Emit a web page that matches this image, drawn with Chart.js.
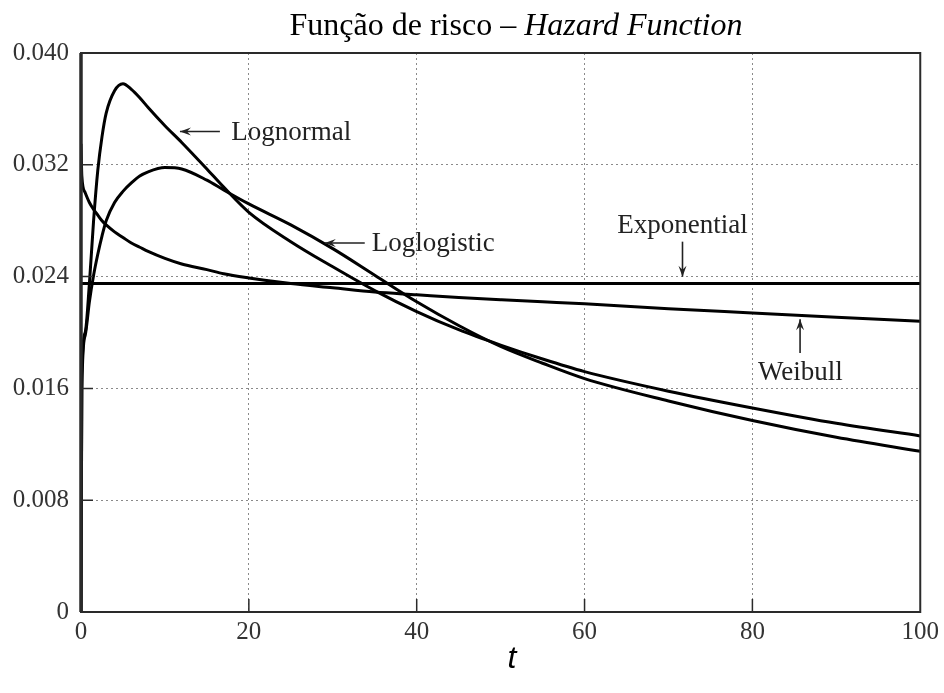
<!DOCTYPE html>
<html>
<head>
<meta charset="utf-8">
<script src="https://cdn.jsdelivr.net/npm/chart.js@4.4.1/dist/chart.umd.min.js"></script>
<style>
  html, body { margin: 0; padding: 0; background: #fff; }
  #chart { display: block; }
</style>
</head>
<body>
<canvas id="chart" width="944" height="693"></canvas>
<script>
// time points (shared by the curves) and hazard values
var tValues = [0, 0.1, 0.5, 1, 1.5, 2, 2.5, 3, 4, 5, 6, 7, 8, 10, 12, 15, 17, 20, 25, 30, 35, 40, 45, 50, 55, 60, 70, 80, 90, 100];

var lognormal = [0, 0.0170, 0.0200, 0.0235, 0.0280, 0.0316, 0.0340, 0.0357, 0.0373, 0.0378, 0.0374, 0.0368, 0.0361, 0.0348, 0.0336, 0.0317, 0.0304, 0.0286, 0.0265, 0.0247, 0.0230, 0.0215, 0.0202, 0.0191, 0.0181, 0.0172, 0.0158, 0.0146, 0.0135, 0.0126];

var loglogistic = [0, 0.0160, 0.0198, 0.0222, 0.0241, 0.0256, 0.0269, 0.0280, 0.0293, 0.0301, 0.0307, 0.0312, 0.0315, 0.0318, 0.0317, 0.0309, 0.0302, 0.0292, 0.0277, 0.0260, 0.0241, 0.0222, 0.0205, 0.0190, 0.0178, 0.0167, 0.0151, 0.0137, 0.0125, 0.0115];

var weibull = [0.0335, 0.0312, 0.0300, 0.0293, 0.0288, 0.0284, 0.0280, 0.0277, 0.0272, 0.0268, 0.0264, 0.0261, 0.0258, 0.0253, 0.0249, 0.0245, 0.0242, 0.0239, 0.0235, 0.0232, 0.0229, 0.0227, 0.0225, 0.02235, 0.0222, 0.02205, 0.0217, 0.0214, 0.0211, 0.0208];

var exponentialT = [0, 100];
var exponential = [0.0235, 0.0235];

var xTicks = [0, 20, 40, 60, 80, 100];
var yTicks = [0, 0.008, 0.016, 0.024, 0.032, 0.040];

// curve labels with their arrows, in data units
var labels = [
  { text: 'Lognormal',   x: 17.9,  y: 0.03377, align: 'left',   arrow: [16.55, 0.03438, 11.79, 0.03438] },
  { text: 'Loglogistic', x: 34.64, y: 0.02583, align: 'left',   arrow: [33.81, 0.02640, 29.05, 0.02640] },
  { text: 'Exponential', x: 71.67, y: 0.02714, align: 'center', arrow: [71.67, 0.02650, 71.67, 0.02399] },
  { text: 'Weibull',     x: 85.71, y: 0.01660, align: 'center', arrow: [85.68, 0.01853, 85.68, 0.02094] }
];

function pts(xs, ys) {
  return xs.map(function (x, i) { return { x: x, y: ys[i] }; });
}

function curve(name, xs, ys) {
  return {
    label: name,
    data: pts(xs, ys),
    borderColor: '#000',
    borderWidth: 3,
    pointRadius: 0,
    fill: false,
    cubicInterpolationMode: 'monotone'
  };
}

var serif = '"Liberation Serif", "Times New Roman", serif';

function arrow(ctx, x1, y1, x2, y2) {
  var a = Math.atan2(y2 - y1, x2 - x1);
  ctx.beginPath();
  ctx.moveTo(x1, y1);
  ctx.lineTo(x2, y2);
  ctx.stroke();
  ctx.beginPath();
  ctx.moveTo(x2, y2);
  ctx.lineTo(x2 - 11 * Math.cos(a) + 4 * Math.sin(a), y2 - 11 * Math.sin(a) - 4 * Math.cos(a));
  ctx.lineTo(x2 - 7 * Math.cos(a), y2 - 7 * Math.sin(a));
  ctx.lineTo(x2 - 11 * Math.cos(a) - 4 * Math.sin(a), y2 - 11 * Math.sin(a) + 4 * Math.cos(a));
  ctx.closePath();
  ctx.fill();
}

var decor = {
  id: 'decor',
  afterDraw: function (chart) {
    var ctx = chart.ctx, a = chart.chartArea;
    var xs = chart.scales.x, ys = chart.scales.y;
    ctx.save();

    // frame
    ctx.strokeStyle = '#2a2a2a';
    ctx.lineWidth = 2;
    ctx.strokeRect(a.left, a.top, a.right - a.left, a.bottom - a.top);
    ctx.lineWidth = 3.5;
    ctx.beginPath();
    ctx.moveTo(a.left, a.top);
    ctx.lineTo(a.left, a.bottom);
    ctx.stroke();

    // short inner tick marks
    ctx.lineWidth = 1.5;
    ctx.beginPath();
    xTicks.slice(1, -1).forEach(function (v) {
      var px = xs.getPixelForValue(v);
      ctx.moveTo(px, a.bottom);
      ctx.lineTo(px, a.bottom - 13);
    });
    yTicks.slice(1, -1).forEach(function (v) {
      var py = ys.getPixelForValue(v);
      ctx.moveTo(a.left, py);
      ctx.lineTo(a.left + 12, py);
    });
    ctx.stroke();

    // title with italic part
    var part1 = 'Função de risco – ', part2 = 'Hazard Function';
    ctx.fillStyle = '#000';
    ctx.textBaseline = 'alphabetic';
    ctx.font = '32px ' + serif;
    var w1 = ctx.measureText(part1).width;
    ctx.font = 'italic 32px ' + serif;
    var w2 = ctx.measureText(part2).width;
    var x0 = 516 - (w1 + w2) / 2;
    ctx.font = '32px ' + serif;
    ctx.textAlign = 'left';
    ctx.fillText(part1, x0, 35);
    ctx.font = 'italic 32px ' + serif;
    ctx.fillText(part2, x0 + w1, 35);

    // x axis name
    ctx.font = 'italic 32px "Liberation Sans", Arial, sans-serif';
    ctx.textAlign = 'center';
    ctx.fillText('t', 512, 668);

    // curve labels
    ctx.font = '27px ' + serif;
    ctx.fillStyle = '#222';
    ctx.strokeStyle = '#222';
    ctx.lineWidth = 1.6;
    labels.forEach(function (l) {
      ctx.textAlign = l.align;
      ctx.fillText(l.text, xs.getPixelForValue(l.x), ys.getPixelForValue(l.y));
      arrow(ctx,
        xs.getPixelForValue(l.arrow[0]), ys.getPixelForValue(l.arrow[1]),
        xs.getPixelForValue(l.arrow[2]), ys.getPixelForValue(l.arrow[3]));
    });

    ctx.restore();
  }
};

new Chart(document.getElementById('chart').getContext('2d'), {
  type: 'line',
  data: {
    datasets: [
      curve('Lognormal', tValues, lognormal),
      curve('Loglogistic', tValues, loglogistic),
      curve('Weibull', tValues, weibull),
      curve('Exponential', exponentialT, exponential)
    ]
  },
  options: {
    responsive: false,
    animation: false,
    devicePixelRatio: 1,
    layout: { padding: { top: 53, right: 23, left: 0, bottom: 0 } },
    plugins: {
      legend: { display: false },
      tooltip: { enabled: false },
      title: { display: false }
    },
    scales: {
      x: {
        type: 'linear',
        min: 0,
        max: 100,
        afterFit: function (s) { s.height = 81; },
        afterBuildTicks: function (s) { s.ticks = xTicks.map(function (v) { return { value: v }; }); },
        ticks: {
          color: '#333',
          padding: 5,
          maxRotation: 0,
          font: { family: serif, size: 25 }
        },
        grid: { color: '#8a8a8a', lineWidth: 1, drawTicks: false },
        border: { display: false, dash: [2, 3] }
      },
      y: {
        min: 0,
        max: 0.04,
        afterFit: function (s) { s.width = 81; },
        afterBuildTicks: function (s) { s.ticks = yTicks.map(function (v) { return { value: v }; }); },
        ticks: {
          color: '#333',
          padding: 12,
          font: { family: serif, size: 25 },
          callback: function (v) { return v === 0 ? '0' : v.toFixed(3); }
        },
        grid: { color: '#8a8a8a', lineWidth: 1, drawTicks: false },
        border: { display: false, dash: [2, 3] }
      }
    }
  },
  plugins: [decor]
});
</script>
</body>
</html>
